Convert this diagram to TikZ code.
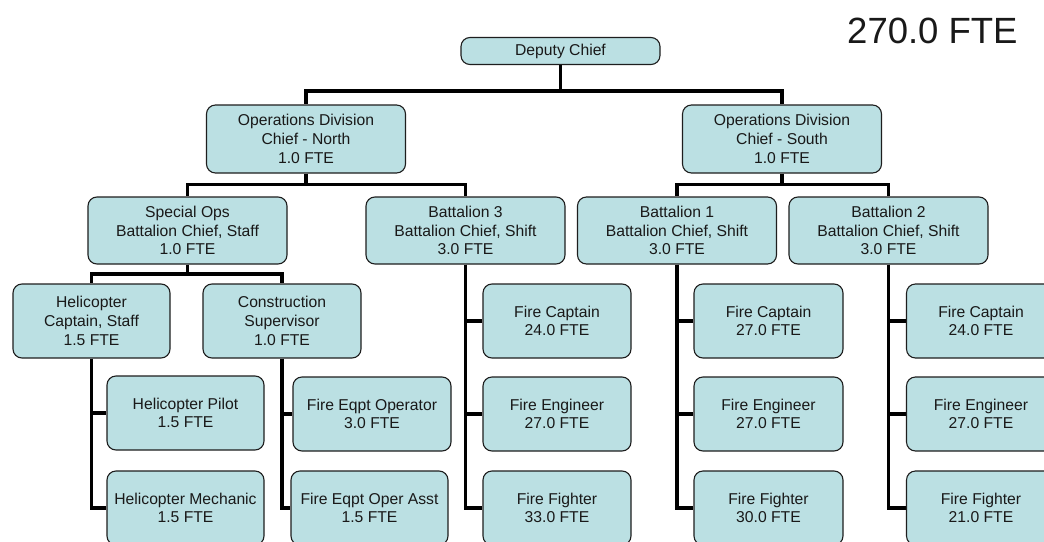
\documentclass[tikz,border=0pt]{standalone}
\usepackage{fontspec}
\setmainfont{Liberation Sans}
\usetikzlibrary{backgrounds}
\definecolor{boxfill}{RGB}{187,224,227}
\definecolor{boxline}{RGB}{30,30,30}
\definecolor{inktext}{RGB}{25,25,25}
\begin{document}
\begin{tikzpicture}[x=1pt,y=-1pt,
  box/.style={draw=boxline, fill=boxfill, line width=1.1pt, rounded corners=9pt,
    inner sep=0pt, align=center, text=inktext,
    font=\fontsize{15.7}{18.7}\selectfont},
  topbox/.style={box, minimum width=199pt, minimum height=27pt},
  divbox/.style={box, minimum width=199pt, minimum height=68pt},
  batbox/.style={box, minimum width=199pt, minimum height=67pt},
  unitbox/.style={box, minimum width=157pt, minimum height=74pt},
  crewbox/.style={box, minimum width=148pt, minimum height=74pt},
  bus/.style={line width=3.6pt, line join=miter, draw=black},
]
\useasboundingbox (0,0) rectangle (1044,541);

% total headcount
\node[anchor=base west, inner sep=0pt, text=inktext,
  font=\fontsize{36.5}{40}\selectfont] (total) at (847,43) {270.0 FTE};

% top of the chain
\node[topbox] (dep) at (560.5,51) {Deputy Chief};
\node[divbox] (opsN) at (306,139) {Operations Division\\Chief - North\\1.0 FTE};
\node[divbox] (opsS) at (782,139) {Operations Division\\Chief - South\\1.0 FTE};

% battalion level
\node[batbox] (spec) at (187.5,230.5) {Special Ops\\Battalion Chief, Staff\\1.0 FTE};
\node[batbox] (b3) at (465.5,230.5) {Battalion 3\\Battalion Chief, Shift\\3.0 FTE};
\node[batbox] (b1) at (677,230.5) {Battalion 1\\Battalion Chief, Shift\\3.0 FTE};
\node[batbox] (b2) at (888.5,230.5) {Battalion 2\\Battalion Chief, Shift\\3.0 FTE};

% special operations units
\node[unitbox] (hcap) at (91.5,321) {Helicopter\\Captain, Staff\\1.5 FTE};
\node[unitbox, minimum width=158pt] (cons) at (282,321) {Construction\\Supervisor\\1.0 FTE};
\node[unitbox] (hpilot) at (185.5,413) {Helicopter Pilot\\1.5 FTE};
\node[unitbox] (hmech) at (185.5,508) {Helicopter Mechanic\\1.5 FTE};
\node[unitbox, minimum width=158pt] (feo) at (372,414) {Fire Eqpt Operator\\3.0 FTE};
\node[unitbox] (feoa) at (369.5,508) {Fire Eqpt Oper Asst\\1.5 FTE};

% battalion 3 crews
\node[crewbox] (c3) at (557,321) {Fire Captain\\24.0 FTE};
\node[crewbox] (e3) at (557,414) {Fire Engineer\\27.0 FTE};
\node[crewbox] (f3) at (557,508) {Fire Fighter\\33.0 FTE};

% battalion 1 crews
\node[crewbox, minimum width=149pt] (c1) at (768.5,321) {Fire Captain\\27.0 FTE};
\node[crewbox, minimum width=149pt] (e1) at (768.5,414) {Fire Engineer\\27.0 FTE};
\node[crewbox, minimum width=149pt] (f1) at (768.5,508) {Fire Fighter\\30.0 FTE};

% battalion 2 crews
\node[crewbox, minimum width=149pt] (c2) at (981,321) {Fire Captain\\24.0 FTE};
\node[crewbox, minimum width=149pt] (e2) at (981,414) {Fire Engineer\\27.0 FTE};
\node[crewbox, minimum width=149pt] (f2) at (981,508) {Fire Fighter\\21.0 FTE};

\begin{pgfonlayer}{background}
  \fill[white] (0,0) rectangle (1044,541);
  % reporting lines
  \draw[bus] (dep.south) -- ++(0,26) -| (opsN.north);
  \draw[bus] (dep.south) -- ++(0,26) -| (opsS.north);
  \draw[bus] (opsN.south) -- ++(0,11) -| (spec.north);
  \draw[bus] (opsN.south) -- ++(0,11) -| (b3.north);
  \draw[bus] (opsS.south) -- ++(0,11) -| (b1.north);
  \draw[bus] (opsS.south) -- ++(0,11) -| (b2.north);
  \draw[bus] (spec.south) -- ++(0,9.5) -| (hcap.north);
  \draw[bus] (spec.south) -- ++(0,9.5) -| (cons.north);
  \foreach \sub in {hpilot,hmech} \draw[bus] (hcap.south) |- (\sub.west);
  \foreach \sub in {feo,feoa} \draw[bus] (cons.south) |- (\sub.west);
  \foreach \sub in {c3,e3,f3} \draw[bus] (b3.south) |- (\sub.west);
  \foreach \sub in {c1,e1,f1} \draw[bus] (b1.south) |- (\sub.west);
  \foreach \sub in {c2,e2,f2} \draw[bus] (b2.south) |- (\sub.west);
\end{pgfonlayer}
\end{tikzpicture}
\end{document}
